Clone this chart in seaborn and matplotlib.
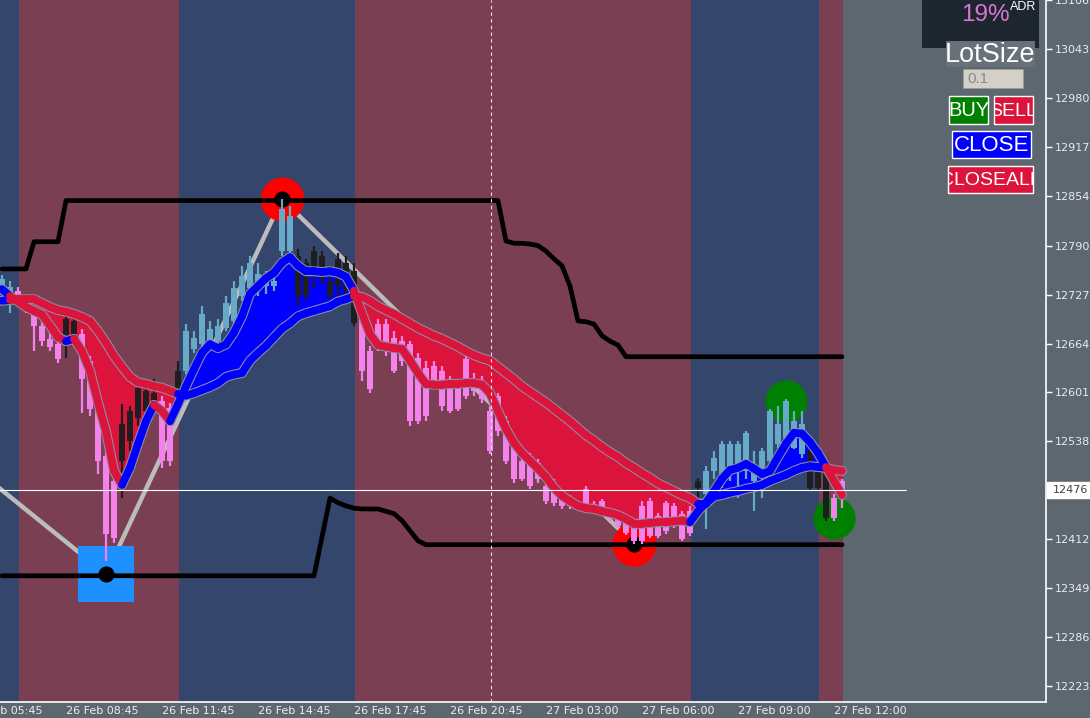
import numpy as np
import matplotlib
matplotlib.use("Agg")
import matplotlib.pyplot as plt
import seaborn as sns
from matplotlib.collections import LineCollection
from matplotlib.patches import Rectangle

# M15 candles, 26 Feb 05:45 -> 27 Feb 12:15 (overnight session gap)
opens = [12734, 12721, 12732, 12719, 12703, 12687, 12670, 12663, 12663, 12676,
         12676, 12642, 12581, 12519, 12487, 12513, 12539, 12568, 12577, 12590,
         12590, 12581, 12599, 12629, 12657, 12663, 12663, 12667, 12684, 12693,
         12725, 12735, 12732, 12738, 12738, 12783, 12783, 12777, 12768, 12783,
         12777, 12745, 12773, 12768, 12757, 12697, 12654, 12689, 12689, 12671,
         12667, 12663, 12645, 12633, 12635, 12629, 12618, 12609, 12644, 12618,
         12616, 12577, 12597, 12564, 12535, 12513, 12519, 12510, 12481, 12484,
         12465, 12467, 12459, 12477, 12457, 12461, 12448, 12443, 12436, 12429,
         12455, 12461, 12442, 12459, 12455, 12445, 12448, 12478, 12470, 12500,
         12487, 12500, 12500, 12500, 12487, 12496, 12513, 12535, 12542, 12530,
         12522, 12526, 12509, 12513, 12465, 12487]
highs = [12752, 12745, 12737, 12724, 12709, 12696, 12680, 12670, 12710, 12699,
         12683, 12648, 12590, 12526, 12500, 12586, 12584, 12616, 12609, 12618,
         12597, 12588, 12642, 12689, 12680, 12712, 12693, 12696, 12725, 12745,
         12764, 12777, 12768, 12757, 12760, 12850, 12841, 12786, 12773, 12790,
         12783, 12757, 12781, 12777, 12768, 12703, 12661, 12696, 12696, 12680,
         12674, 12667, 12652, 12642, 12642, 12635, 12622, 12616, 12652, 12626,
         12622, 12584, 12600, 12571, 12539, 12517, 12523, 12515, 12487, 12490,
         12469, 12469, 12461, 12481, 12461, 12464, 12451, 12446, 12438, 12433,
         12461, 12465, 12446, 12461, 12459, 12448, 12455, 12491, 12506, 12526,
         12539, 12539, 12539, 12551, 12526, 12530, 12580, 12584, 12593, 12577,
         12577, 12530, 12513, 12515, 12470, 12490]
lows = [12729, 12703, 12711, 12703, 12654, 12661, 12654, 12639, 12645, 12661,
        12575, 12571, 12496, 12384, 12407, 12465, 12526, 12558, 12571, 12573,
        12504, 12506, 12590, 12625, 12652, 12654, 12654, 12661, 12680, 12687,
        12719, 12729, 12725, 12728, 12732, 12777, 12777, 12712, 12719, 12735,
        12741, 12721, 12723, 12728, 12687, 12616, 12600, 12654, 12648, 12626,
        12635, 12558, 12560, 12564, 12605, 12577, 12575, 12577, 12593, 12597,
        12588, 12522, 12545, 12509, 12484, 12487, 12477, 12484, 12457, 12455,
        12451, 12451, 12451, 12451, 12448, 12443, 12436, 12427, 12418, 12406,
        12406, 12414, 12414, 12419, 12427, 12410, 12416, 12442, 12425, 12490,
        12478, 12487, 12465, 12490, 12448, 12465, 12506, 12530, 12539, 12528,
        12517, 12474, 12474, 12436, 12436, 12452]
closes = [12747, 12737, 12719, 12712, 12687, 12667, 12660, 12644, 12696, 12693,
          12618, 12580, 12513, 12419, 12414, 12560, 12577, 12607, 12603, 12600,
          12513, 12513, 12629, 12680, 12671, 12702, 12683, 12687, 12716, 12735,
          12751, 12768, 12754, 12745, 12745, 12837, 12828, 12725, 12725, 12751,
          12747, 12725, 12738, 12732, 12690, 12629, 12605, 12667, 12654, 12629,
          12642, 12564, 12564, 12571, 12613, 12584, 12577, 12580, 12597, 12603,
          12593, 12526, 12551, 12513, 12490, 12490, 12481, 12490, 12461, 12459,
          12455, 12455, 12454, 12455, 12451, 12446, 12438, 12429, 12420, 12410,
          12410, 12416, 12416, 12423, 12429, 12412, 12420, 12487, 12500, 12517,
          12535, 12535, 12535, 12549, 12500, 12526, 12577, 12560, 12590, 12564,
          12560, 12478, 12478, 12439, 12439, 12476]

fast_ma = [12734, 12725, 12718, 12711, 12706, 12701, 12687, 12672, 12667, 12670,
           12654, 12629, 12588, 12551, 12500, 12482, 12504, 12535, 12564, 12585,
           12577, 12564, 12586, 12609, 12631, 12652, 12663, 12658, 12663, 12678,
           12699, 12728, 12738, 12748, 12755, 12768, 12775, 12764, 12757, 12757,
           12756, 12757, 12755, 12750, 12732, 12703, 12676, 12662, 12660, 12658,
           12657, 12642, 12626, 12612, 12611, 12611, 12612, 12612, 12613, 12613,
           12611, 12600, 12577, 12554, 12536, 12523, 12513, 12503, 12492, 12478,
           12468, 12461, 12455, 12452, 12451, 12448, 12446, 12443, 12438, 12432,
           12432, 12433, 12434, 12434, 12435, 12436, 12434, 12448, 12459, 12474,
           12490, 12501, 12504, 12509, 12503, 12496, 12500, 12518, 12535, 12549,
           12548, 12537, 12523, 12505, 12487, 12469]
slow_ma = [12719, 12720, 12721, 12721, 12721, 12716, 12711, 12707, 12705, 12702,
           12698, 12693, 12680, 12665, 12648, 12634, 12621, 12614, 12612, 12609,
           12607, 12603, 12599, 12597, 12600, 12604, 12608, 12613, 12621, 12624,
           12626, 12642, 12652, 12661, 12672, 12683, 12690, 12699, 12703, 12706,
           12709, 12712, 12718, 12721, 12725, 12724, 12719, 12712, 12707, 12702,
           12696, 12690, 12684, 12679, 12674, 12670, 12665, 12660, 12654, 12649,
           12645, 12642, 12634, 12626, 12618, 12609, 12602, 12595, 12588, 12580,
           12572, 12564, 12555, 12546, 12539, 12531, 12524, 12518, 12510, 12504,
           12497, 12491, 12484, 12479, 12474, 12469, 12465, 12458, 12458, 12467,
           12469, 12472, 12474, 12477, 12479, 12482, 12487, 12491, 12495, 12500,
           12504, 12506, 12505, 12504, 12501, 12500]

upper_band = ([12760] * 4 + [12795] * 4 + [12848] * 55 +
              [12796, 12793, 12793, 12792, 12790, 12783, 12773, 12764, 12738,
               12693, 12692, 12689, 12674, 12667, 12662] + [12647] * 28)
lower_band = ([12365] * 40 +
              [12415, 12465, 12459, 12455, 12452, 12451, 12451, 12451, 12448,
               12445, 12436, 12423, 12410] + [12405] * 53)

zigzag_bars = [-3, 13, 35, 79]
zigzag_prices = [12500, 12367, 12850, 12406]
swing_bars = [35, 79]
swing_prices = [12850, 12406]
box_bars = [13]
box_prices = [12367]
green_bars = [98, 104]
green_prices = [12590, 12439]

session_edges = [-0.25, 2.1, 22.1, 44.1, 86.1, 102.1, 105.1]
session_kind = ["b", "r", "b", "r", "b", "r"]

time_bars = [-4, 8, 20, 32, 44, 56, 68, 80, 92, 104]
time_labels = ["26 Feb 05:45", "26 Feb 08:45", "26 Feb 11:45", "26 Feb 14:45",
               "26 Feb 17:45", "26 Feb 20:45", "27 Feb 03:00", "27 Feb 06:00",
               "27 Feb 09:00", "27 Feb 12:00"]
price_ticks = [13106, 13043, 12980, 12917, 12854, 12790, 12727, 12664, 12601,
               12538, 12412, 12349, 12286, 12223]
current_price = 12476
separator_bar = 61.1

BG = "#5d6770"
BAND = {"b": "#34466b", "r": "#7a3f52"}
CRIMSON = "#dc143c"
BLUE = "#0000ff"
PINK = "#f482ec"
LBLUE = "#66a9c9"
DARK = "#1e1e1e"
TXT = "#ececec"
EDGE = "#8c8ca2"

sns.set_theme(style="dark", rc={"axes.facecolor": BG, "figure.facecolor": BG})
plt.rcParams["font.family"] = ["DejaVu Sans"]

W, H = 1090, 718
fig = plt.figure(figsize=(W / 100, H / 100), dpi=100)
ax = fig.add_axes([0, 16 / H, 1046 / W, 702 / H])
ax.set_xlim(-0.25, 130.5)
ax.set_ylim(12202.5, 13106.2)
ax.grid(False)

bars = np.arange(len(opens))
o, h, l, c = (np.array(v, dtype=float) for v in (opens, highs, lows, closes))
f, s = np.array(fast_ma, float), np.array(slow_ma, float)

# session background
for x0, x1, k in zip(session_edges[:-1], session_edges[1:], session_kind):
    ax.axvspan(x0, x1, color=BAND[k], lw=0, zorder=0)

# zigzag
sns.lineplot(x=zigzag_bars, y=zigzag_prices, ax=ax, color="#bcbcbc", lw=3.2,
             sort=False, zorder=1)

# swing markers
ax.scatter(swing_bars, swing_prices, s=1000, color="#ff0000", lw=0, zorder=2)
ax.scatter(box_bars, box_prices, s=1620, marker="s", color="#1e90ff", lw=0, zorder=2)
ax.scatter(green_bars, green_prices, s=920, color="#008000", lw=0, zorder=2)
ax.scatter(swing_bars + box_bars, swing_prices + box_prices, s=135, color="black",
           lw=0, zorder=2.5)

# channel
sns.lineplot(x=bars, y=upper_band, ax=ax, color="black", lw=3.4, zorder=3)
sns.lineplot(x=bars, y=lower_band, ax=ax, color="black", lw=3.4, zorder=3)

# MA ribbon fill
ax.fill_between(bars, f, s, where=f >= s, interpolate=True, color=BLUE, lw=0, zorder=4)
ax.fill_between(bars, f, s, where=f <= s, interpolate=True, color=CRIMSON, lw=0, zorder=4)

# candles
up = f >= s
bull = c >= o
cols = np.where(bull & up, LBLUE, np.where(~bull & ~up, PINK, DARK))
ax.vlines(bars, l, h, colors=cols, lw=1.6, zorder=5)
body = np.maximum(np.abs(c - o), 1.5)
ax.bar(bars, body, bottom=np.minimum(o, c), width=0.7, color=cols, lw=0, zorder=5)

# MA lines: thick coloured line with a thin grey outline
trend_seg = f[1:] >= s[1:]
fast_cols = np.where((np.diff(f) > 2) | trend_seg, BLUE, CRIMSON)
slow_cols = np.where(trend_seg, BLUE, CRIMSON)
for vals, segcols in ((s, slow_cols), (f, fast_cols)):
    ax.plot(bars, vals, color=EDGE, lw=7.2, zorder=6, solid_capstyle="round",
            solid_joinstyle="round")
    pts = np.column_stack([bars, vals])
    segs = np.stack([pts[:-1], pts[1:]], axis=1)
    ax.add_collection(LineCollection(segs, colors=segcols, linewidths=5.6,
                                     capstyle="round", joinstyle="round", zorder=6.5))

# current price line and separator
ax.plot([-0.25, 113], [current_price] * 2, color="white", lw=0.8, zorder=8)
ax.axvline(separator_bar, color="#f0e0ea", lw=0.8, ls=(0, (3, 3)), zorder=8)

# axes styling
for side in ("top", "left"):
    ax.spines[side].set_visible(False)
for side in ("right", "bottom"):
    ax.spines[side].set_color("white")
    ax.spines[side].set_linewidth(1.2)
ax.yaxis.tick_right()
ax.set_yticks(price_ticks)
ax.set_yticklabels([str(p) for p in price_ticks])
ax.tick_params(axis="y", colors="white", labelcolor=TXT, labelsize=8,
               length=4, width=1, pad=2, direction="out")
ax.set_xticks(time_bars[1:])
ax.set_xticklabels([])
ax.tick_params(axis="x", colors="white", length=4, width=1, direction="out")
for b, lab in zip(time_bars, time_labels):
    ax.annotate(lab, xy=(b, 0), xycoords=("data", "axes fraction"),
                xytext=(0, -4), textcoords="offset pixels", ha="left", va="top",
                fontsize=8, color=TXT, annotation_clip=False)

# current price box on the scale
yp = ax.transData.transform((0, current_price))[1]
fig.add_artist(Rectangle((1047 / W, (yp - 8) / H), 43 / W, 16 / H,
                         transform=fig.transFigure, color="white", zorder=10))
fig.text(1053 / W, yp / H, str(current_price), ha="left", va="center",
         fontsize=8, color="#404040", zorder=11)


# trade panel
def box(x0, y0, x1, y1, **kw):
    r = Rectangle((x0 / W, 1 - y1 / H), (x1 - x0) / W, (y1 - y0) / H,
                  transform=fig.transFigure, zorder=10, **kw)
    fig.add_artist(r)
    return r


def label(x, y, txt, clip=None, **kw):
    t = fig.text(x / W, 1 - y / H, txt, zorder=11, **kw)
    if clip is not None:
        t.set_clip_path(clip)
        t.set_clip_on(True)
    return t


box(922, 0, 1039, 48, fc="#1d252f", ec="none")
label(985, 15, "19%", ha="center", va="center", fontsize=17.5, color="#d977d6",
      family="Liberation Sans")
label(1023, 7, "ADR", ha="center", va="center", fontsize=9, color="white",
      family="Liberation Sans")
box(946, 41, 1035, 67, fc="#68717a", ec="none")
label(990, 55, "LotSize", ha="center", va="center", fontsize=19.5, color="white",
      family="Liberation Sans")
box(963, 69, 1023, 88, fc="#d4d0c8", ec="#9a9a9a", lw=0.6)
label(967, 79, "0.1", ha="left", va="center", fontsize=11, color="#8a8a8a",
      family="Liberation Sans")

buttons = [(949, 96, 988, 124, "#008000", "BUY", 14.5),
           (994, 96, 1033, 124, CRIMSON, "SELL", 14),
           (952, 131, 1031, 158, BLUE, "CLOSE", 16),
           (948, 166, 1033, 193, CRIMSON, "CLOSEALL", 14)]
for x0, y0, x1, y1, col, txt, fs in buttons:
    r = box(x0, y0, x1, y1, fc=col, ec="white", lw=1)
    label((x0 + x1) / 2, (y0 + y1) / 2 + 1, txt, clip=r, ha="center", va="center",
          fontsize=fs, color="white", family="Liberation Sans")

fig.savefig("out.png", dpi=100, facecolor=BG)
